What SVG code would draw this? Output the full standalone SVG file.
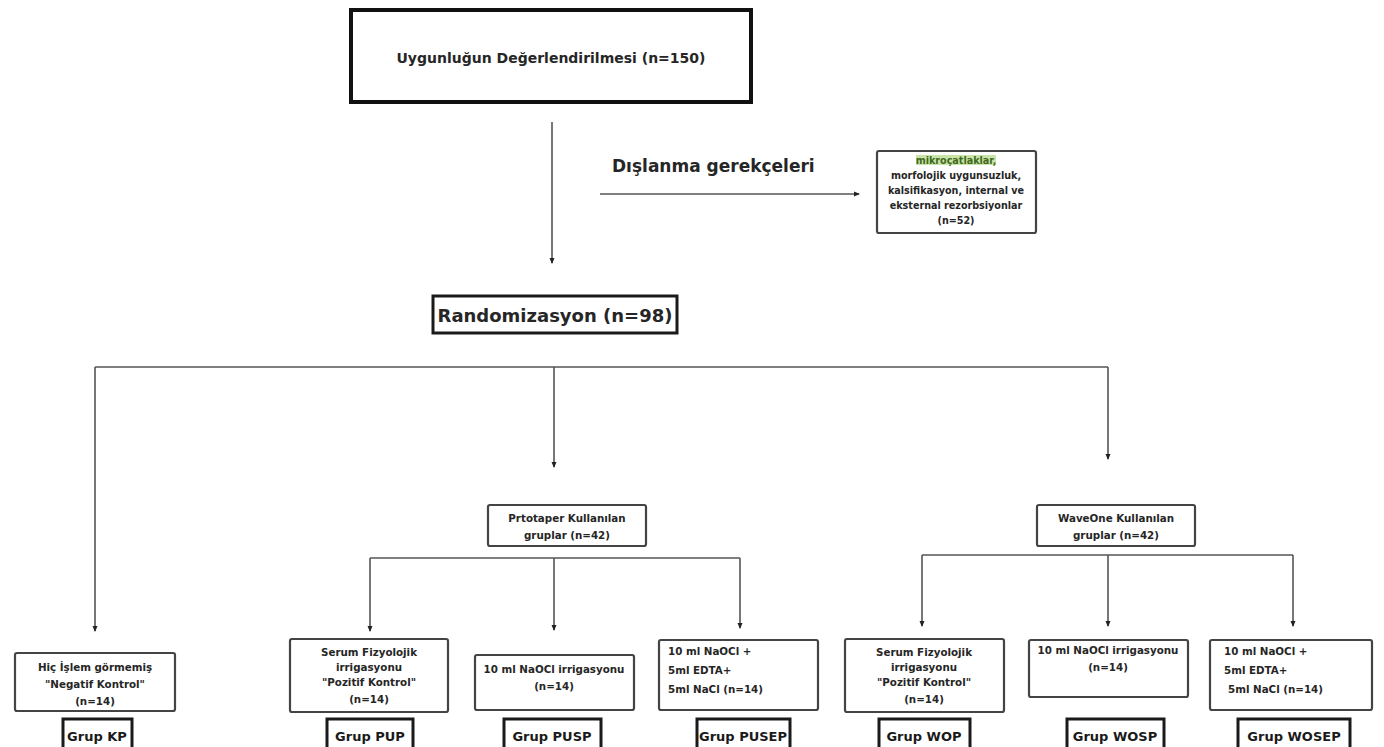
<svg xmlns="http://www.w3.org/2000/svg" width="1384" height="747" viewBox="0 0 1384 747">
<style>
text{font-family:"DejaVu Sans","Liberation Sans",sans-serif;font-weight:bold;fill:#262626}
.c{text-anchor:middle}
.sm{font-size:10.3px}
.xs{font-size:9.6px}
.grp{font-size:13px;text-anchor:middle;fill:#1a1a1a}
.box{fill:#fff;stroke:#444;stroke-width:2.2}
.gbox{fill:#fff;stroke:#1a1a1a;stroke-width:3}
.ln{stroke:#555;stroke-width:1.6;fill:none}
.ar{stroke:#555;stroke-width:1.6;fill:none;marker-end:url(#ah)}
</style>
<defs>
<marker id="ah" markerWidth="6" markerHeight="6" refX="5" refY="3" orient="auto" markerUnits="userSpaceOnUse">
<path d="M0,0.5 L6,3 L0,5.5 Z" fill="#222"/>
</marker>
</defs>
<rect width="1384" height="747" fill="#fff"/>
<g id="connectors">
<line class="ar" x1="552" y1="122" x2="552" y2="263"/>
<line class="ar" x1="600" y1="194" x2="859" y2="194"/>
<line class="ln" x1="95" y1="367" x2="1108" y2="367"/>
<line class="ar" x1="95" y1="367" x2="95" y2="631"/>
<line class="ar" x1="554" y1="367" x2="554" y2="467"/>
<line class="ar" x1="1108" y1="367" x2="1108" y2="459"/>
<line class="ln" x1="370" y1="558" x2="740" y2="558"/>
<line class="ar" x1="370" y1="558" x2="370" y2="631"/>
<line class="ar" x1="554" y1="558" x2="554" y2="630"/>
<line class="ar" x1="740" y1="558" x2="740" y2="628"/>
<line class="ln" x1="922" y1="555" x2="1293" y2="555"/>
<line class="ar" x1="922" y1="555" x2="922" y2="626"/>
<line class="ar" x1="1108" y1="555" x2="1108" y2="626"/>
<line class="ar" x1="1293" y1="555" x2="1293" y2="626"/>
</g>
<g id="uygunluk">
<rect x="351" y="10" width="400" height="92" fill="#fff" stroke="#111" stroke-width="4"/>
<text class="c" x="551" y="63" font-size="14">Uygunluğun Değerlendirilmesi (n=150)</text>
</g>
<g id="dislanma-label">
<text x="612" y="172" font-size="17">Dışlanma gerekçeleri</text>
</g>
<g id="dislanma">
<rect class="box" x="877" y="151" width="159" height="82" rx="2"/>
<rect x="916" y="155" width="80" height="10" fill="#c9e3a8"/>
<text class="c xs" x="956" y="164" style="fill:#3f6a1e">mikroçatlaklar,</text>
<text class="c xs" x="956" y="179">morfolojik uygunsuzluk,</text>
<text class="c xs" x="956" y="194">kalsifikasyon, internal ve</text>
<text class="c xs" x="956" y="209">eksternal rezorbsiyonlar</text>
<text class="c xs" x="956" y="224">(n=52)</text>
</g>
<g id="randomizasyon">
<rect x="433" y="296" width="244" height="37" fill="#fff" stroke="#1a1a1a" stroke-width="3"/>
<text class="c" x="555" y="322" font-size="18">Randomizasyon (n=98)</text>
</g>
<g id="protaper">
<rect class="box" x="488" y="505" width="158" height="41" rx="2"/>
<text class="c sm" x="567" y="522">Prtotaper Kullanılan</text>
<text class="c sm" x="567" y="539">gruplar (n=42)</text>
</g>
<g id="waveone">
<rect class="box" x="1037" y="505" width="158" height="41" rx="2"/>
<text class="c sm" x="1116" y="522">WaveOne Kullanılan</text>
<text class="c sm" x="1116" y="539">gruplar (n=42)</text>
</g>
<g id="kp">
<rect class="box" x="15" y="653" width="160" height="58" rx="2"/>
<text class="c sm" x="95" y="671">Hiç İşlem görmemiş</text>
<text class="c sm" x="95" y="688">"Negatif Kontrol"</text>
<text class="c sm" x="95" y="705">(n=14)</text>
<rect class="gbox" x="63" y="719" width="69" height="32"/>
<text class="grp" x="97" y="741">Grup KP</text>
</g>
<g id="pup">
<rect class="box" x="290" y="639" width="158" height="73" rx="2"/>
<text class="c sm" x="369" y="656">Serum Fizyolojik</text>
<text class="c sm" x="369" y="671">irrigasyonu</text>
<text class="c sm" x="369" y="686">"Pozitif Kontrol"</text>
<text class="c sm" x="369" y="703">(n=14)</text>
<rect class="gbox" x="327" y="719" width="86" height="32"/>
<text class="grp" x="370" y="741">Grup PUP</text>
</g>
<g id="pusp">
<rect class="box" x="475" y="655" width="159" height="55" rx="2"/>
<text class="c sm" x="554" y="673">10 ml NaOCl irrigasyonu</text>
<text class="c sm" x="554" y="690">(n=14)</text>
<rect class="gbox" x="504" y="719" width="97" height="32"/>
<text class="grp" x="552" y="741">Grup PUSP</text>
</g>
<g id="pusep">
<rect class="box" x="659" y="640" width="159" height="70" rx="2"/>
<text class="sm" x="668" y="655">10 ml NaOCl +</text>
<text class="sm" x="668" y="674">5ml EDTA+</text>
<text class="sm" x="668" y="693">5ml NaCl (n=14)</text>
<rect class="gbox" x="697" y="719" width="93" height="32"/>
<text class="grp" x="743" y="741">Grup PUSEP</text>
</g>
<g id="wop">
<rect class="box" x="845" y="639" width="159" height="73" rx="2"/>
<text class="c sm" x="924" y="656">Serum Fizyolojik</text>
<text class="c sm" x="924" y="671">irrigasyonu</text>
<text class="c sm" x="924" y="686">"Pozitif Kontrol"</text>
<text class="c sm" x="924" y="703">(n=14)</text>
<rect class="gbox" x="879" y="719" width="91" height="32"/>
<text class="grp" x="924" y="741">Grup WOP</text>
</g>
<g id="wosp">
<rect class="box" x="1029" y="640" width="159" height="57" rx="2"/>
<text class="c sm" x="1108" y="654">10 ml NaOCl irrigasyonu</text>
<text class="c sm" x="1108" y="671">(n=14)</text>
<rect class="gbox" x="1067" y="719" width="97" height="32"/>
<text class="grp" x="1115" y="741">Grup WOSP</text>
</g>
<g id="wosep">
<rect class="box" x="1210" y="640" width="162" height="70" rx="2"/>
<text class="sm" x="1224" y="655">10 ml NaOCl +</text>
<text class="sm" x="1224" y="674">5ml EDTA+</text>
<text class="sm" x="1228" y="693">5ml NaCl (n=14)</text>
<rect class="gbox" x="1238" y="719" width="112" height="32"/>
<text class="grp" x="1294" y="741">Grup WOSEP</text>
</g>
</svg>
